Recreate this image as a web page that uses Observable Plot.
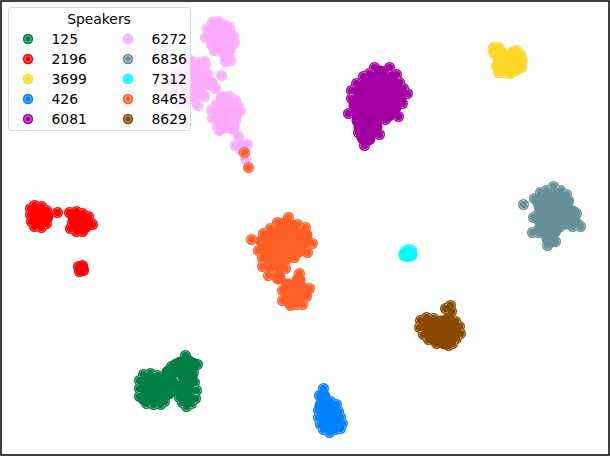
<!DOCTYPE html>
<html>
<head>
<meta charset="utf-8">
<script src="https://cdn.jsdelivr.net/npm/d3@7"></script>
<script src="https://cdn.jsdelivr.net/npm/@observablehq/plot@0.6"></script>
<style>
html,body{margin:0;padding:0;background:#fff;}
#wrap{position:relative;width:610px;height:456px;font-family:"DejaVu Sans",sans-serif;}
#wrap svg.plot{display:block;}
#legend{position:absolute;left:7.5px;top:7px;width:183px;height:124px;box-sizing:border-box;background:rgba(255,255,255,.8);border:1px solid #d6d6d6;border-radius:3px;color:#000;font-size:13.9px;}
#legend .t{position:absolute;left:0;right:0;top:2.5px;text-align:center;}
#legend .i{position:absolute;line-height:16px;}
#legend svg{position:absolute;}
</style>
</head>
<body>
<div id="wrap"></div>
<script>
const speakers = ["125","2196","3699","426","6081","6272","6836","7312","8465","8629"];
const colors = ["#007f45","#ff0000","#ffd626","#0082ff","#a300a3","#ffaaff","#669199","#00ffff","#ff5f27","#8b4a00"];

const s125 = [[139,380],[139,388],[139,396],[143,374],[145,382],[146,390],[144,398],[146,403],[150,373],[151,380],[152,388],[151,396],[153,404],[157,375],[158,383],[158,391],[158,399],[160,404],[164,380],[165,388],[165,395],[164,401],[170,387],[171,382],[168,392],[182,386],[180,391],[179,397],[182,402],[186,406],[191,403],[195,398],[196,390],[194,382],[187,385],[187,392],[187,398],[190,378],[171,366],[168,372],[176,370],[180,363],[185,355],[187,361],[192,364],[197,364],[183,368],[188,370],[193,372],[176,365],[184,376]];
const s2196 = [[30,208],[30,214],[31,221],[34,205],[36,211],[36,218],[34,226],[41,206],[42,213],[42,220],[41,227],[46,210],[46,216],[46,223],[57,212],[69,212],[72,222],[70,228],[74,216],[76,211],[78,218],[78,225],[76,231],[82,213],[84,219],[84,226],[82,231],[88,216],[90,222],[92,224],[78,266],[82,265],[83,270],[79,271],[81,268]];
const s3699 = [[493,47],[496,50],[500,53],[493,52],[498,47],[504,57],[513,53],[516,50],[520,54],[522,60],[521,67],[515,70],[505,72],[498,72],[496,66],[500,62],[508,62],[514,60],[510,68],[504,66],[503,72],[512,56],[499,58],[505,62],[510,58],[515,55],[516,62],[517,67],[499,67],[500,72],[510,73]];
const s426 = [[323,388],[319,395],[323,396],[323,403],[330,401],[336,404],[318,410],[318,417],[320,424],[325,410],[326,417],[326,424],[323,429],[329,432],[332,409],[333,416],[333,423],[335,429],[338,411],[340,417],[342,423],[340,428],[330,427],[327,405],[321,405]];
const s6081 = [[374,67],[389,67],[369,73],[380,72],[396,74],[363,76],[372,79],[382,79],[390,79],[399,82],[356,83],[365,84],[375,86],[385,86],[394,86],[403,88],[407,93],[351,90],[359,91],[369,92],[379,93],[389,93],[398,94],[351,98],[360,99],[370,100],[380,100],[390,100],[399,100],[355,105],[365,107],[375,107],[385,107],[394,107],[402,103],[348,113],[357,112],[368,114],[378,114],[388,114],[398,116],[385,119],[372,119],[358,120],[360,127],[369,124],[375,126],[358,132],[363,137],[373,130],[379,134],[368,138],[364,145],[367,131]];
const s6272 = [[212,22],[218,21],[224,24],[229,27],[207,28],[215,28],[222,30],[230,32],[205,37],[212,36],[219,36],[226,37],[233,36],[234,42],[211,44],[218,44],[226,44],[232,44],[214,50],[222,50],[228,49],[225,61],[230,60],[227,58],[221,75],[190,60],[197,62],[183,66],[190,67],[199,69],[204,61],[205,65],[176,72],[184,74],[192,74],[200,75],[207,74],[170,80],[178,80],[186,81],[194,81],[201,82],[180,88],[188,88],[195,88],[199,92],[174,94],[183,96],[190,96],[178,102],[186,101],[210,83],[215,88],[204,96],[197,105],[229,96],[222,98],[235,100],[216,104],[224,105],[232,106],[238,106],[211,110],[219,112],[227,112],[235,113],[240,110],[212,118],[220,119],[228,120],[235,120],[217,126],[226,126],[232,127],[219,130],[238,136],[235,145],[240,146],[247,144],[241,150],[245,158]];
const s6836 = [[523,204],[534,198],[540,192],[546,190],[553,186],[560,190],[566,194],[538,200],[545,198],[553,195],[560,198],[566,202],[568,200],[540,206],[548,204],[556,204],[562,208],[536,215],[543,213],[550,212],[558,214],[533,217],[540,220],[548,220],[556,220],[565,214],[572,212],[576,213],[566,222],[573,220],[578,224],[580,226],[572,226],[560,226],[548,226],[540,229],[532,232],[538,232],[546,232],[554,230],[547,245],[551,240],[555,241],[548,238]];
const s7312 = [[405,251],[408,249],[411,250],[410,254],[407,256],[405,254],[411,255],[404,255]];
const s8465 = [[251,239],[288,217],[277,222],[284,224],[291,226],[297,224],[305,227],[270,228],[263,233],[271,235],[279,232],[287,233],[295,232],[303,234],[305,235],[262,241],[270,243],[278,240],[286,241],[294,240],[302,242],[312,243],[258,250],[266,251],[274,249],[282,249],[290,249],[298,250],[307,252],[262,258],[270,258],[278,257],[286,257],[294,257],[262,266],[270,265],[278,265],[268,275],[278,277],[285,268],[299,273],[298,280],[309,288],[287,285],[293,287],[301,288],[282,290],[288,292],[296,294],[304,293],[282,300],[288,299],[296,300],[290,305],[296,304],[302,304],[306,296]];
const s8629 = [[450,305],[445,308],[451,311],[420,320],[426,317],[433,318],[419,327],[426,325],[433,325],[440,322],[447,320],[455,321],[459,326],[423,334],[430,332],[437,331],[444,328],[452,328],[460,333],[428,339],[435,338],[442,336],[450,335],[456,338],[436,343],[444,342],[448,345],[452,343]];
const s8465Strays = [[244,152],[248,167]];

const series = [s125,s2196,s3699,s426,s6081,s6272,s6836,s7312,[...s8465,...s8465Strays],s8629];
const rows = speakers.map((speaker,i)=>series[i].map(([x,y])=>({speaker,x,y})));
const colorOpts = {domain:speakers,range:colors};
// a dot with neighbours on every side is buried in its blob: its ring does not show
const buried = (d,data)=>{
  const a = data.filter(e=>e!==d&&Math.hypot(e.x-d.x,e.y-d.y)<14)
    .map(e=>Math.atan2(e.y-d.y,e.x-d.x)).sort((p,q)=>p-q);
  if (a.length<3) return false;
  let gap = a[0]+2*Math.PI-a[a.length-1];
  for (let i=1;i<a.length;i++) gap=Math.max(gap,a[i]-a[i-1]);
  return gap<Math.PI*0.8;
};

const marks = [];
rows.forEach(data=>{
  marks.push(Plot.dot(data,{x:"x",y:"y",r:5.5,fill:"speaker"}));
  marks.push(Plot.dot(data,{x:"x",y:"y",r:3.9,fill:"none",stroke:"white",strokeWidth:0.5}));
  marks.push(Plot.dot(data,{x:"x",y:"y",r:3.6,fill:"speaker"}));
  marks.push(Plot.dot(data.filter(d=>buried(d,data)),{x:"x",y:"y",r:7,fill:"speaker"}));
});
marks.push(Plot.frame({stroke:"#000",strokeWidth:1.5,insetLeft:0.5,insetTop:0.5,insetRight:1.5,insetBottom:1.5}));

const chart = Plot.plot({
  width:610,height:456,margin:0,
  style:{background:"#fff"},
  x:{domain:[0,610],range:[0,610],axis:null},
  y:{domain:[0,456],range:[0,456],axis:null},
  color:colorOpts,
  marks
});
chart.classList.add("plot");
const wrap = document.getElementById("wrap");
wrap.appendChild(chart);

const legend = document.createElement("div");
legend.id = "legend";
legend.innerHTML = '<div class="t">Speakers</div>';
speakers.forEach((s,i)=>{
  const col = i<5?0:1, row = i%5;
  const cx = 19+col*100, cy = 31+row*20;
  const sw = document.createElementNS("http://www.w3.org/2000/svg","svg");
  sw.setAttribute("width",14);sw.setAttribute("height",14);
  sw.style.left=(cx-7)+"px";sw.style.top=(cy-7)+"px";
  sw.innerHTML=`<circle cx="7" cy="7" r="5.2" fill="${colors[i]}"/><circle cx="7" cy="7" r="3.2" fill="${colors[i]}" stroke="#fff" stroke-width=".5"/>`;
  legend.appendChild(sw);
  const lab = document.createElement("div");
  lab.className="i";lab.textContent=s;
  lab.style.left=(43+col*100)+"px";lab.style.top=(cy-8.5)+"px";
  legend.appendChild(lab);
});
wrap.appendChild(legend);
</script>
</body>
</html>
